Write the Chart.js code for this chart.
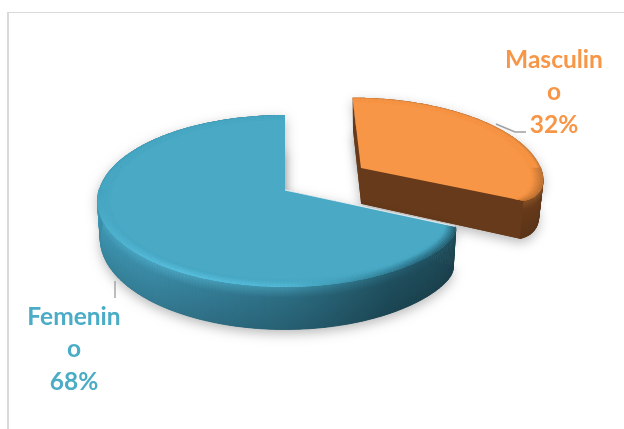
<!DOCTYPE html>
<html>
<head>
<meta charset="utf-8">
<title>Sexo</title>
<script src="https://cdn.jsdelivr.net/npm/chart.js@4"></script>
<style>
    html, body { margin: 0; padding: 0; background: #fff; }
    #frame { position: absolute; left: 7px; top: 12px; width: 617px; height: 417px; border-left: 2px solid #d9d9d9; border-top: 1px solid #d9d9d9; box-sizing: border-box; }
    #chart { position: absolute; left: 0; top: 0; }
</style>
</head>
<body>
<div id="frame"></div>
<canvas id="chart" width="624" height="429"></canvas>
<script>
const categories = ['Masculino', 'Femenino'];
const values = [32, 68];
const labelLines = [['Masculin', 'o'], ['Femenin', 'o']];
const sliceColors = ['#f79646', '#4aa9c5'];
const labelColors = ['#f79646', '#4bacc6'];

// view settings for the tilted pie
const TILT = 0.455;
const PERSPECTIVE = 0.128;
const DEPTH = 37;
const BEVEL = 0.065;
const BEVEL_LAYERS = 8;
const TIP_SPREAD = 5 * Math.PI / 180;
const STEP = Math.PI / 180;

// rim colours by angle in degrees (0 = right, 90 = front, 180 = left, 270 = back)
const rimStyles = [
    {
        side: [[-90, '#5e3618'], [25, '#663a1a']],
        edge: [[-90, '#b86c30'], [-30, '#c57a3c'], [25, '#b06a30']],
        face: '#663a1a',
        roundedEnd: 'endAngle',
        tipRound: 0.07,
        vanishX: 85,
        shrink: 0.975,
        showFaces: true
    },
    {
        side: [[25, '#1c4552'], [60, '#1f4e5d'], [90, '#2c6c82'], [130, '#3a8aa5'], [180, '#3f9dba'], [270, '#3f9dba']],
        edge: [[25, '#1f4f5e'], [50, '#256478'], [70, '#3a8fa8'], [90, '#55bcd9'], [120, '#5ec6e4'], [150, '#52b6d2'], [180, '#45a3bf'], [230, '#3f9ab5'], [270, '#3f97b2']],
        face: '#1c4552',
        roundedEnd: 'startAngle',
        tipRound: 0.04,
        vanishX: 0,
        shrink: 0.985,
        showFaces: false
    }
];

// label anchors and leader lines, in canvas pixels
const labelLayout = [
    { x: 554, y: 60, leader: [[496, 124], [515, 132], [526, 132]] },
    { x: 74, y: 317, leader: [[115, 281], [115, 298]] }
];

function toRgb(hex) {
    return [1, 3, 5].map(i => parseInt(hex.substr(i, 2), 16));
}

function mix(a, b, t) {
    const ca = toRgb(a);
    const cb = toRgb(b);
    const c = ca.map((v, i) => Math.round(v + (cb[i] - v) * t));
    return '#' + c.map(v => v.toString(16).padStart(2, '0')).join('');
}

function colorAt(stops, deg) {
    if (deg <= stops[0][0]) return stops[0][1];
    for (let i = 1; i < stops.length; i++) {
        if (deg <= stops[i][0]) {
            const t = (deg - stops[i - 1][0]) / (stops[i][0] - stops[i - 1][0]);
            return mix(stops[i - 1][1], stops[i][1], t);
        }
    }
    return stops[stops.length - 1][1];
}

// arc geometry from the chart element -> screen point on the top surface
function project(el, style, r, angle) {
    const mid = (el.startAngle + el.endAngle) / 2;
    const R = el.outerRadius;
    const off = el.options.offset / R;
    // pull the rim in near the rounded corner of the slice
    const round = 1 - style.tipRound * Math.exp(-Math.abs(angle - el[style.roundedEnd]) / TIP_SPREAD);
    const u = r * round * Math.cos(angle) + off * Math.cos(mid);
    const v = r * round * Math.sin(angle) + off * Math.sin(mid);
    const sc = 1 / (1 - PERSPECTIVE * v);
    return { x: el.x + R * u * sc, y: el.y + R * TILT * v * sc, sc: sc };
}

function lower(el, style, p) {
    const vx = el.x + style.vanishX;
    return { x: vx + (p.x - vx) * style.shrink, y: p.y + DEPTH * p.sc };
}

function rimAngles(el) {
    const list = [];
    for (let a = el.startAngle; a < el.endAngle; a += STEP) list.push(a);
    list.push(el.endAngle);
    return list;
}

function tracePolygon(ctx, points) {
    ctx.beginPath();
    points.forEach((p, i) => i ? ctx.lineTo(p.x, p.y) : ctx.moveTo(p.x, p.y));
    ctx.closePath();
}

function topOutline(el, style) {
    return [project(el, style, 0, el.startAngle)].concat(rimAngles(el).map(a => project(el, style, 1, a)));
}

function drawSlice(ctx, el, style, base) {
    const top = topOutline(el, style);
    const bottom = top.map(p => lower(el, style, p));

    // soft shadow below the solid
    ctx.save();
    ctx.shadowColor = 'rgba(0,0,0,0.28)';
    ctx.shadowBlur = 12;
    ctx.shadowOffsetY = 4;
    ctx.fillStyle = style.face;
    tracePolygon(ctx, bottom);
    ctx.fill();
    tracePolygon(ctx, top);
    ctx.fill();
    ctx.restore();

    // flat cut faces
    if (style.showFaces) {
        ctx.fillStyle = style.face;
        [el.startAngle, el.endAngle].forEach(a => {
            const apex = project(el, style, 0, a);
            const rim = project(el, style, 1, a);
            tracePolygon(ctx, [apex, rim, lower(el, style, rim), lower(el, style, apex)]);
            ctx.fill();
        });
    }

    // outer wall, one quad per degree
    const angles = rimAngles(el);
    for (let i = 0; i < angles.length - 1; i++) {
        if (Math.sin(angles[i]) < -0.02) continue;
        const a = project(el, style, 1, angles[i]);
        const b = project(el, style, 1, angles[i + 1]);
        const c = lower(el, style, b);
        const d = lower(el, style, a);
        const deg = (angles[i] + angles[i + 1]) / 2 * 180 / Math.PI;
        const side = colorAt(style.side, deg);
        const edge = colorAt(style.edge, deg);
        const grad = ctx.createLinearGradient(0, a.y, 0, d.y);
        grad.addColorStop(0, mix(side, edge, 0.45));
        grad.addColorStop(0.25, side);
        grad.addColorStop(1, mix(side, '#000000', 0.12));
        ctx.fillStyle = grad;
        ctx.strokeStyle = grad;
        ctx.lineWidth = 0.8;
        tracePolygon(ctx, [a, b, c, d]);
        ctx.fill();
        ctx.stroke();
    }

    // top surface
    ctx.fillStyle = base;
    tracePolygon(ctx, top);
    ctx.fill();

    // rounded rim of the top surface
    ctx.save();
    tracePolygon(ctx, top);
    ctx.clip();
    for (let j = 0; j < BEVEL_LAYERS; j++) {
        const r0 = 1 - BEVEL * j / BEVEL_LAYERS;
        const r1 = 1 - BEVEL * (j + 1) / BEVEL_LAYERS;
        for (let i = 0; i < angles.length - 1; i++) {
            const deg = (angles[i] + angles[i + 1]) / 2 * 180 / Math.PI;
            // back of the rim keeps only a narrow shaded line
            const back = Math.sin(angles[i]) < 0 ? 2.5 : 1;
            const fade = Math.min(1, (j + 1) / BEVEL_LAYERS * back);
            const color = mix(colorAt(style.edge, deg), base, fade);
            ctx.fillStyle = color;
            ctx.strokeStyle = color;
            ctx.lineWidth = 0.6;
            tracePolygon(ctx, [
                project(el, style, r0, angles[i]), project(el, style, r0, angles[i + 1]),
                project(el, style, r1, angles[i + 1]), project(el, style, r1, angles[i])
            ]);
            ctx.fill();
            ctx.stroke();
        }
    }
    ctx.restore();
}

const tiltedPie = {
    id: 'tiltedPie',
    beforeDatasetDraw(chart, args) {
        const ctx = chart.ctx;
        const arcs = chart.getDatasetMeta(args.index).data;
        // far slice first, the near one overlaps it
        arcs.forEach((el, i) => drawSlice(ctx, el, rimStyles[i], sliceColors[i]));

        // thin light seam where the near slice crosses the far one
        const near = arcs[1];
        const apex = project(near, rimStyles[1], 0, near.startAngle);
        const tip = project(near, rimStyles[1], 1, near.startAngle);
        ctx.strokeStyle = 'rgba(255,255,255,0.85)';
        ctx.lineWidth = 1;
        ctx.beginPath();
        ctx.moveTo(apex.x, apex.y);
        ctx.lineTo(tip.x, tip.y);
        ctx.stroke();
        return false;
    },
    afterDraw(chart) {
        const ctx = chart.ctx;
        const total = values.reduce((a, b) => a + b, 0);
        categories.forEach((name, i) => {
            const layout = labelLayout[i];
            ctx.strokeStyle = '#a0a0a0';
            ctx.lineWidth = 1.4;
            ctx.beginPath();
            layout.leader.forEach((p, k) => k ? ctx.lineTo(p[0], p[1]) : ctx.moveTo(p[0], p[1]));
            ctx.stroke();

            const lines = labelLines[i].concat(Math.round(values[i] / total * 100) + '%');
            ctx.font = 'bold 24.5px Lato, Carlito, sans-serif';
            ctx.textAlign = 'center';
            ctx.textBaseline = 'middle';
            ctx.fillStyle = labelColors[i];
            lines.forEach((line, k) => ctx.fillText(line, layout.x, layout.y + k * 32.5));
        });
    }
};

new Chart(document.getElementById('chart'), {
    type: 'pie',
    data: {
        labels: categories,
        datasets: [{
            data: values,
            backgroundColor: sliceColors,
            borderWidth: 0,
            offset: [93, 0],
            radius: 186
        }]
    },
    options: {
        responsive: false,
        animation: false,
        events: [],
        layout: { padding: { right: 54, bottom: 49 } },
        plugins: {
            legend: { display: false },
            tooltip: { enabled: false }
        }
    },
    plugins: [tiltedPie]
});
</script>
</body>
</html>
